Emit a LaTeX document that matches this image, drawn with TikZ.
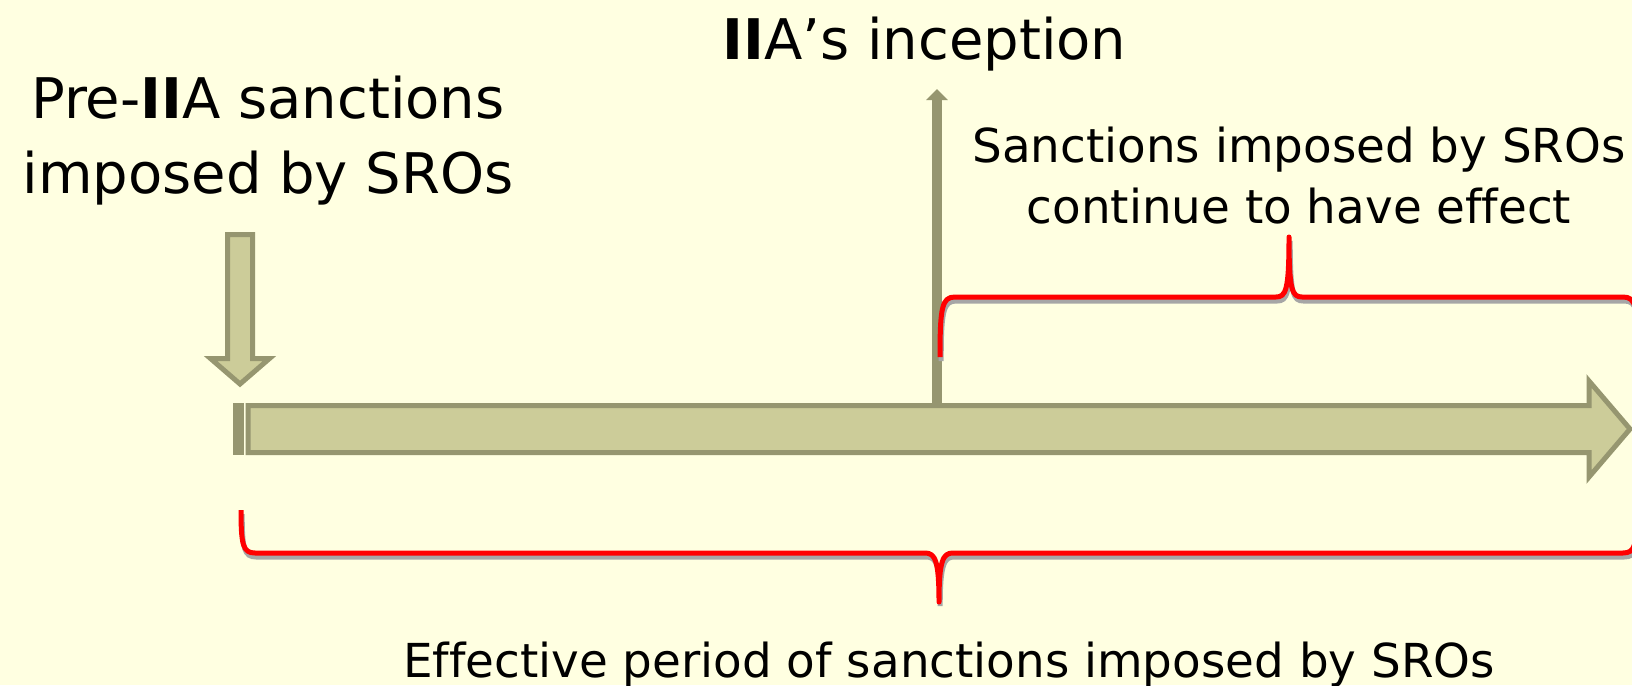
\documentclass[tikz,border=0pt]{standalone}
\usepackage{fontspec}
\setmainfont[Ligatures=NoCommon]{DejaVu Sans}
\usetikzlibrary{arrows.meta}
\definecolor{bgyellow}{RGB}{255,255,225}
\definecolor{olivefill}{RGB}{204,204,153}
\definecolor{olivedark}{RGB}{150,150,112}
\tikzset{
	blockarrow/.style={fill=olivefill, draw=olivedark, line width=2.5pt, line join=miter},
	redbrace/.style={draw=red, line width=2.5pt, line join=round,
		preaction={draw=black!35, line width=2.5pt, transform canvas={xshift=0.6pt, yshift=-2pt}}},
	bigtext/.style={font=\fontsize{28}{37.5}\selectfont},
	smalltext/.style={font=\fontsize{23.4}{30.5}\selectfont},
}

\begin{document}
\begin{tikzpicture}[x=0.5pt, y=-0.5pt]
		\useasboundingbox (0,0) rectangle (1632,685);
		\clip (0,0) rectangle (1632,685);
		\fill[bgyellow] (0,0) rectangle (1632,685);
		
		\fill[olivedark] (233,403) rectangle (243.5,455);
		\draw[blockarrow] (248,405.5) -- (1589,405.5) -- (1589,381) -- (1630,429) -- (1589,477) -- (1589,452.5) -- (248,452.5) -- cycle;
		
		\draw[blockarrow] (227.5,234.5) -- (252.5,234.5) -- (252.5,358.5) -- (269.5,358.5) -- (240,384) -- (210.5,358.5) -- (227.5,358.5) -- cycle;
		
		\coordinate (incbase) at (937,405);
		\coordinate (inctop) at (937,89);
		\draw[olivedark, line width=5pt, -{Triangle[width=10.5pt,length=5.5pt]}] (incbase) -- (inctop);
		
		\draw[redbrace] (940,357) .. controls (940,307) and (942,297) .. (955,297) -- (1276,297) .. controls (1286,297) and (1289,290) .. (1289,237) .. controls (1289,290) and (1292,297) .. (1302,297) -- (1623,297) .. controls (1636,297) and (1638,307) .. (1638,357);
		\draw[redbrace] (241,510) .. controls (241,545) and (243,553) .. (255,553) -- (925,553) .. controls (935,553) and (939,560) .. (939,602) .. controls (939,560) and (943,553) .. (953,553) -- (1623,553) .. controls (1635,553) and (1637,545) .. (1637,510);
		
		\node[bigtext, align=center] (pre) at (268,141) {Pre-\textbf{II}A sanctions\\imposed by SROs};
		\node[bigtext, anchor=base] (inception) at (924.5,59) {\textbf{II}A’s inception};
		\node[smalltext, align=center] (continue) at (1299,175.6) {Sanctions imposed by SROs\\continue to have effect};
		\node[smalltext, anchor=base] (effective) at (949,677) {Effective period of sanctions imposed by SROs};
\end{tikzpicture}
\end{document}
